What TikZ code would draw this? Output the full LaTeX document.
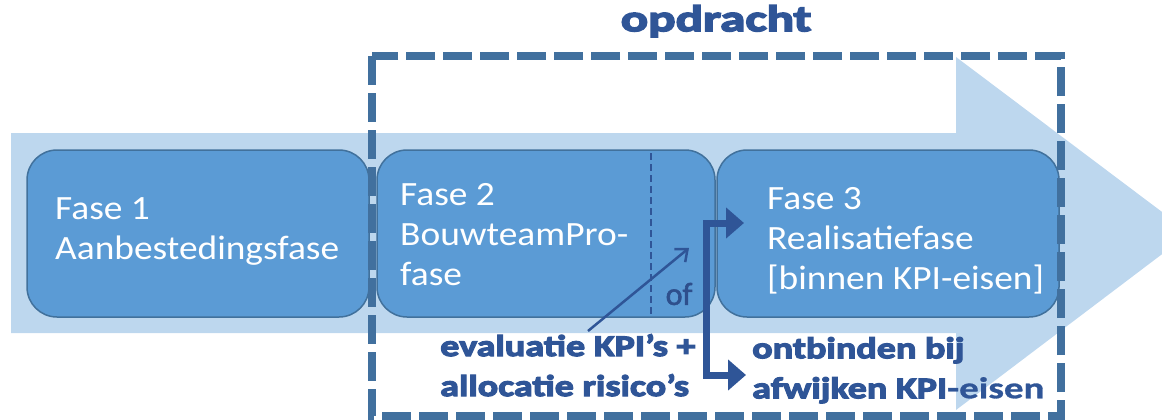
\documentclass[tikz,border=0pt]{standalone}
\usepackage{fontspec}
\setmainfont{Carlito}
\newfontfamily\boxfont{Carlito}[FakeStretch=1.1]
\newfontfamily\heavyfont{Carlito Bold}[FakeStretch=1.27,FakeBold=4]
\newfontfamily\titlefont{Carlito Bold}[FakeStretch=1.38,FakeBold=4.5]
\newfontfamily\semifont{Carlito Bold}[FakeStretch=1.3,FakeBold=1]
\newfontfamily\offont{Carlito}[FakeBold=1.8]
\usetikzlibrary{arrows.meta}
\definecolor{bandblue}{HTML}{BDD7EE}
\definecolor{boxblue}{HTML}{5B9BD5}
\definecolor{boxedge}{HTML}{41719C}
\definecolor{dashblue}{HTML}{41709E}
\definecolor{inkblue}{HTML}{2F5597}
\definecolor{ofblue}{HTML}{2E4F8C}
\begin{document}
\begin{tikzpicture}[x=1pt,y=-1pt,
  phase/.style={draw=boxedge, fill=boxblue, line width=1.5pt, rounded corners=30pt,
    minimum height=167pt, inner sep=0pt},
  phasetext/.style={anchor=north west, inner sep=0pt, align=left, text=white,
    font=\boxfont\fontsize{34}{40}\selectfont},
  bluetext/.style={anchor=north west, inner sep=0pt, align=left, text=inkblue,
    font=\heavyfont\fontsize{30}{40}\selectfont},
  frame/.style={draw=dashblue, line width=8pt, dash pattern=on 29pt off 8pt},
  divider/.style={draw=inkblue, line width=2.2pt, dash pattern=on 7pt off 4pt},
  thinarrow/.style={draw=inkblue, line width=2.5pt, -{Straight Barb[length=10pt,width=17pt]}},
  splitarrow/.style={draw=inkblue, line width=7pt, line join=miter,
    {Triangle[length=18pt,width=30pt]}-{Triangle[length=18pt,width=30pt]}}
]
\useasboundingbox (0,0) rectangle (1162,420);
\clip (0,0) rectangle (1162,420);
% big background arrow
\fill[bandblue] (11,133) -- (956,133) -- (956,57) -- (1190,233) -- (956,410) -- (956,333) -- (11,333) -- cycle;
% phase boxes
\node[phase, minimum width=342pt] (box1) at (198,233.5) {};
\node[phase, minimum width=338pt] (box2) at (546,233.5) {};
\node[phase, minimum width=342pt] (box3) at (888,233.5) {};
\node[phasetext] (t1) at (55,197) {Fase 1\\Aanbestedingsfase};
\node[phasetext] (t2) at (400,183) {Fase 2\\BouwteamPro-\\fase};
\node[phasetext] (t3) at (767,187) {Fase 3\\Realisatiefase\\{[}binnen KPI-eisen{]}};
% divider in box 2
\coordinate (divtop) at (651,153);
\coordinate (divbot) at (651,315);
\draw[divider] (divtop) -- (divbot);
\node[text=ofblue, font=\offont\fontsize{32}{36}\selectfont, inner sep=0pt] (of) at (679,294) {of};
% bottom texts
\node[bluetext] (eval) at (440,334) {evaluatie KPI’s +\\allocatie risico’s};
\node[bluetext] (ontb) at (752,337) {ontbinden bij\\afwijken KPI{\semifont-eisen}};
% arrows
\coordinate (evalstart) at (588,331);
\coordinate (evalend) at (689,248);
\draw[thinarrow] (evalstart) -- (evalend);
\coordinate (tipA) at (744,223);
\coordinate (cornA) at (706,223);
\coordinate (cornB) at (706,375);
\coordinate (tipB) at (746,375);
\draw[splitarrow] (tipA) -- (cornA) -- (cornB) -- (tipB);
% opdracht frame
\coordinate (fr1) at (372,56);
\coordinate (fr2) at (1061,416);
\draw[frame] (fr1) rectangle (fr2);
\node[anchor=north, inner sep=0pt, text=inkblue, font=\titlefont\fontsize{37}{40}\selectfont] (title) at (716,5) {opdracht};
\end{tikzpicture}
\end{document}
